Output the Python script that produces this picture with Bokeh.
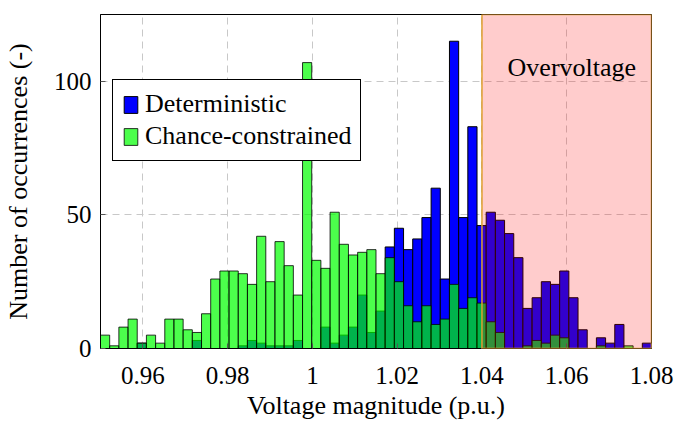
import numpy as np
from bokeh.plotting import figure
from bokeh.models import (Range1d, FixedTicker, BoxAnnotation, Label, Legend, LegendItem,
                          ColumnDataSource)
from bokeh.embed import file_html
from bokeh.resources import INLINE

# ---- data (histogram counts) ----
X_MIN = 0.95
X_MAX = 1.08
N_BINS = 60

deterministic = [0, 0, 0, 0, 2, 0, 0, 0, 0, 0,
                 3, 0, 0, 0, 0, 1, 3, 2, 1, 1,
                 1, 3, 0, 0, 8, 2, 5, 8, 20, 6,
                 14, 38, 45, 37, 41, 49, 60, 26, 115, 49,
                 83, 46, 51, 48, 43, 34, 15, 19, 25, 24,
                 29, 19, 7, 0, 4, 2, 9, 0, 0, 2]

chance_constrained = [5, 1, 8, 11, 2, 5, 2, 11, 11, 7,
                      6, 13, 26, 29, 29, 28, 24, 42, 25, 40,
                      31, 20, 107, 33, 30, 51, 39, 35, 36, 37,
                      28, 34, 25, 16, 10, 16, 9, 11, 24, 15,
                      19, 17, 10, 6, 0, 0, 1, 3, 2, 5,
                      4, 0, 0, 0, 1, 0, 0, 1, 0, 0]

x_ticks = [0.96, 0.98, 1.0, 1.02, 1.04, 1.06, 1.08]
y_ticks = [0, 50, 100]
overvoltage_start = 1.04
overvoltage_end = 1.08
series_labels = ["Deterministic", "Chance-constrained"]
region_label = "Overvoltage"

# ---- build ----
edges = np.linspace(X_MIN, X_MAX, N_BINS + 1)
src_det = ColumnDataSource(dict(left=edges[:-1], right=edges[1:],
                                top=deterministic, bottom=[0] * N_BINS))
src_cc = ColumnDataSource(dict(left=edges[:-1], right=edges[1:],
                               top=chance_constrained, bottom=[0] * N_BINS))

FONT = "Liberation Serif"

p = figure(width=678, height=429, output_backend="svg", toolbar_location=None,
           x_range=Range1d(X_MIN, X_MAX), y_range=Range1d(0, 125),
           min_border_left=90, min_border_right=27, min_border_top=14, min_border_bottom=81)

p.outline_line_color = "black"
p.outline_line_alpha = 1
p.outline_line_width = 1
p.background_fill_color = "white"

r_det = p.quad(left="left", right="right", top="top", bottom="bottom", source=src_det,
               fill_color="#0000ff", fill_alpha=1.0, line_color="black", line_width=1)
r_cc = p.quad(left="left", right="right", top="top", bottom="bottom", source=src_cc,
              fill_color="#00ff00", fill_alpha=0.7, line_color="black", line_alpha=0.8,
              line_width=1)

box = BoxAnnotation(left=overvoltage_start, right=overvoltage_end,
                    fill_color="#ff0000", fill_alpha=0.2,
                    line_color="#e0a030", line_width=1.5, line_alpha=1)
p.add_layout(box)

lab = Label(x=1.0612, y=105, text=region_label, text_align="center", text_baseline="middle",
            text_font=FONT, text_font_size="26px", text_color="black")
p.add_layout(lab)

# axes
p.xaxis.ticker = FixedTicker(ticks=x_ticks)
p.yaxis.ticker = FixedTicker(ticks=y_ticks)
p.xaxis.major_label_overrides = {1: "1"}
p.xaxis.axis_label = "Voltage magnitude (p.u.)"
p.yaxis.axis_label = "Number of occurrences (-)"
for ax in (p.xaxis, p.yaxis):
    ax.axis_label_text_font = FONT
    ax.axis_label_text_font_size = "26px"
    ax.axis_label_text_font_style = "normal"
    ax.axis_label_text_color = "black"
    ax.major_label_text_font = FONT
    ax.major_label_text_font_size = "25px"
    ax.major_label_text_color = "black"
    ax.axis_line_color = "black"
    ax.major_tick_in = 5
    ax.major_tick_out = 0
    ax.major_tick_line_color = "#555555"
    ax.minor_tick_line_color = None
p.xaxis.major_label_standoff = 18
p.xaxis.axis_label_standoff = 4
p.yaxis.major_label_standoff = 9
p.yaxis.axis_label_standoff = 18

# grid
for g in (p.xgrid, p.ygrid):
    g.grid_line_color = "#c8c8c8"
    g.grid_line_dash = "7 5"
    g.grid_line_width = 1
p.xgrid.ticker = FixedTicker(ticks=x_ticks)
p.ygrid.ticker = FixedTicker(ticks=y_ticks)

legend = Legend(items=[LegendItem(label=series_labels[0], renderers=[r_det]),
                       LegendItem(label=series_labels[1], renderers=[r_cc])],
                location=(12, 187))
legend.label_text_font = FONT
legend.label_text_font_size = "26px"
legend.label_text_color = "black"
legend.glyph_width = 17
legend.glyph_height = 21
legend.label_standoff = 6
legend.padding = 9
legend.spacing = 2
legend.margin = 0
legend.border_line_color = "black"
legend.border_line_width = 1
legend.border_line_alpha = 1
legend.background_fill_color = "white"
legend.background_fill_alpha = 1
p.add_layout(legend)

open("out.html", "w").write(file_html(p, INLINE))
